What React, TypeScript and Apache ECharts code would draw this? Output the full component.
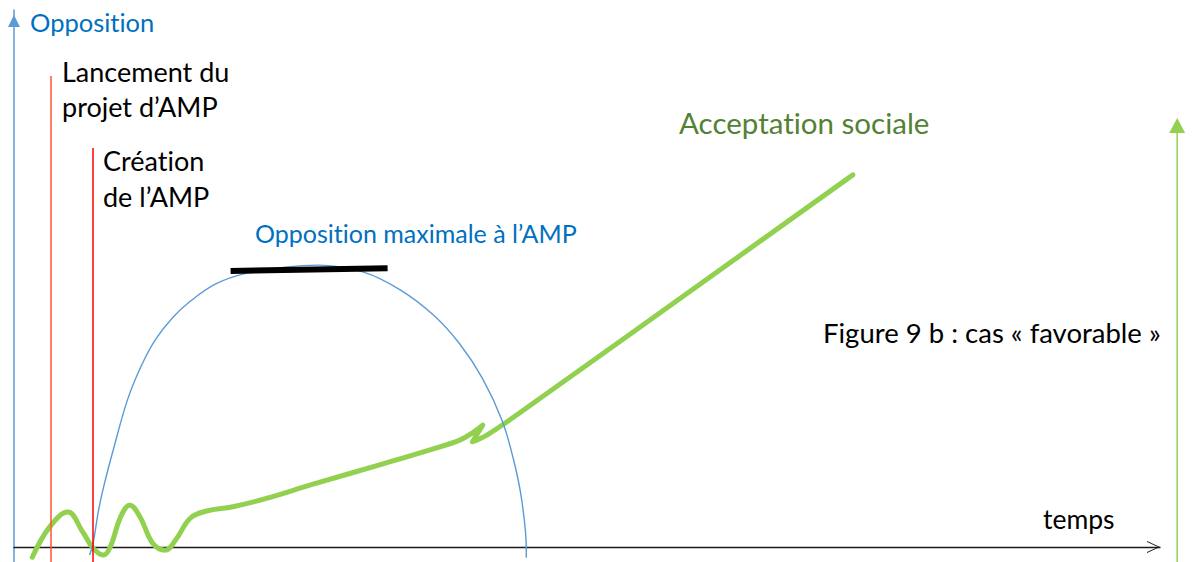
import React, { useEffect, useRef } from "react";
import * as echarts from "echarts";

// Time axis: 0..100 (arbitrary units), opposition / acceptance: 0..100
const opposition: [number, number][] = [
  [6.6, -1.5], [6.9, 0.7], [7.4, 7.1], [7.9, 11.9], [8.7, 18.4], [9.9, 27.4],
  [11.1, 33.7], [12.3, 38.5], [13.8, 42.6], [15.4, 45.8], [17.6, 49.0], [20.3, 51.0],
  [23.6, 52.1], [26.5, 52.5], [30.5, 51.2], [33.7, 47.9], [36.6, 43.2], [38.9, 37.8],
  [40.9, 31.3], [42.6, 23.5], [43.6, 16.2], [44.3, 8.8], [44.7, -0.2], [44.7, -2.0],
];

const acceptance: [number, number][] = [
  [1.6, -1.9], [3.1, 3.7], [4.7, 6.5], [6.0, 2.8], [6.9, -0.2], [7.8, -1.5],
  [8.4, 0.0], [9.3, 5.6], [10.1, 7.8], [11.0, 5.6], [12.1, 0.7], [13.2, -0.6],
  [14.1, 1.3], [15.4, 5.4], [16.8, 6.7], [19.1, 7.5], [22.1, 9.1], [26.1, 11.7],
  [31.9, 15.3], [36.3, 18.1], [38.9, 19.9], [40.1, 21.4], [40.9, 22.7], [40.0, 19.6],
  [41.3, 20.9], [44.2, 25.1], [73.2, 69.3],
];

const maxOpposition: [number, number][] = [[18.9, 51.4], [32.6, 51.9]];

const eventTimes = [3.2, 6.9]; // Lancement du projet, Création de l'AMP
const eventTops = [87.7, 74.3];
const eventColors = ["#FF5533", "#FF0000"];

const Y_MIN = -2.79;
const acceptanceAxisX = 101.5;
const acceptanceAxisTip = 79.9;

const FONT = "Lato, 'Open Sans', sans-serif";

const texts = [
  { text: "Opposition", x: 30, y: 22, size: 25.5, color: "#0070C0" },
  { text: "Lancement du", x: 62, y: 71, size: 27, color: "#000" },
  { text: "projet d\u2019AMP", x: 62, y: 106, size: 27, color: "#000" },
  { text: "Cr\u00e9ation", x: 103, y: 160, size: 27, color: "#000" },
  { text: "de l\u2019AMP", x: 103, y: 196, size: 27, color: "#000" },
  { text: "Opposition maximale \u00e0 l\u2019AMP", x: 255, y: 233, size: 25, color: "#0070C0" },
  { text: "Acceptation sociale", x: 679, y: 122, size: 29.5, color: "#548235" },
  { text: "Figure 9 b : cas \u00ab favorable \u00bb", x: 823, y: 332, size: 27.5, color: "#000" },
  { text: "temps", x: 1043, y: 519, size: 26.5, color: "#000" },
];

export default function App() {
  const ref = useRef<HTMLDivElement>(null);
  useEffect(() => {
    if (!ref.current) return;
    const chart = echarts.init(ref.current, undefined, { renderer: "svg" });
    chart.setOption({
      animation: false,
      backgroundColor: "#fff",
      grid: { left: 14, right: 34, top: 10, bottom: 0 },
      xAxis: {
        type: "value",
        min: 0,
        max: 100,
        axisLine: {
          show: true,
          onZero: true,
          symbol: ["none", "path://M0,13 L6,0 L12,13 L11,13 L6,2 L1,13 Z"],
          symbolSize: [12, 13],
          symbolOffset: [0, -6.5],
          lineStyle: { color: "#1a1a1a", width: 1.3 },
        },
        axisTick: { show: false },
        axisLabel: { show: false },
        splitLine: { show: false },
      },
      yAxis: {
        type: "value",
        min: Y_MIN,
        max: 100,
        axisLine: {
          show: true,
          onZero: true,
          symbol: ["none", "triangle"],
          symbolSize: [12, 12],
          symbolOffset: [0, -11],
          lineStyle: { color: "#5B9BD5", width: 1.5 },
        },
        axisTick: { show: false },
        axisLabel: { show: false },
        splitLine: { show: false },
      },
      series: [
        {
          name: "Acceptation sociale",
          type: "line",
          data: acceptance,
          smooth: 0.4,
          showSymbol: false,
          clip: false,
          z: 2,
          lineStyle: { color: "#92D050", width: 5, cap: "round", join: "round" },
        },
        {
          name: "Opposition",
          type: "line",
          data: opposition,
          smooth: 0.35,
          showSymbol: false,
          clip: false,
          z: 3,
          lineStyle: { color: "#5B9BD5", width: 1.4 },
          markLine: {
            silent: true,
            symbol: ["none", "none"],
            label: { show: false },
            data: eventTimes.map((t, i) => [
              { coord: [t, Y_MIN], lineStyle: { color: eventColors[i], width: 1.5, type: "solid" } },
              { coord: [t, eventTops[i]] },
            ]),
          },
        },
        {
          name: "Opposition maximale",
          type: "line",
          data: maxOpposition,
          showSymbol: false,
          clip: false,
          z: 4,
          lineStyle: { color: "#000", width: 6 },
        },
      ],
    });

    const base = chart.convertToPixel({ gridIndex: 0 }, [acceptanceAxisX, Y_MIN]) as number[];
    const tip = chart.convertToPixel({ gridIndex: 0 }, [acceptanceAxisX, acceptanceAxisTip]) as number[];
    const headH = 15;
    const headW = 16;

    const textGraphics = texts.map((t) => ({
      type: "text",
      x: t.x,
      y: t.y,
      silent: true,
      style: {
        text: t.text,
        font: `${t.size}px ${FONT}`,
        fill: t.color,
        textAlign: "left",
        textVerticalAlign: "middle",
        align: "left",
        verticalAlign: "middle",
      },
    }));

    chart.setOption({
      graphic: [
        ...textGraphics,
        {
          type: "line",
          silent: true,
          shape: { x1: base[0], y1: base[1], x2: tip[0], y2: tip[1] + headH - 1 },
          style: { stroke: "#92D050", lineWidth: 1.5 },
        },
        {
          type: "polygon",
          silent: true,
          shape: {
            points: [
              [tip[0], tip[1]],
              [tip[0] + headW / 2, tip[1] + headH],
              [tip[0] - headW / 2, tip[1] + headH],
            ],
          },
          style: { fill: "#92D050" },
        },
      ],
    });
    return () => chart.dispose();
  }, []);
  return (
    <>
      <style>{"svg text { font-variant-ligatures: none !important; font-feature-settings: 'liga' 0, 'clig' 0 !important; }"}</style>
      <div
        ref={ref}
        style={{ position: "absolute", left: 0, top: 0, width: 1194, height: 562 }}
      />
    </>
  );
}
